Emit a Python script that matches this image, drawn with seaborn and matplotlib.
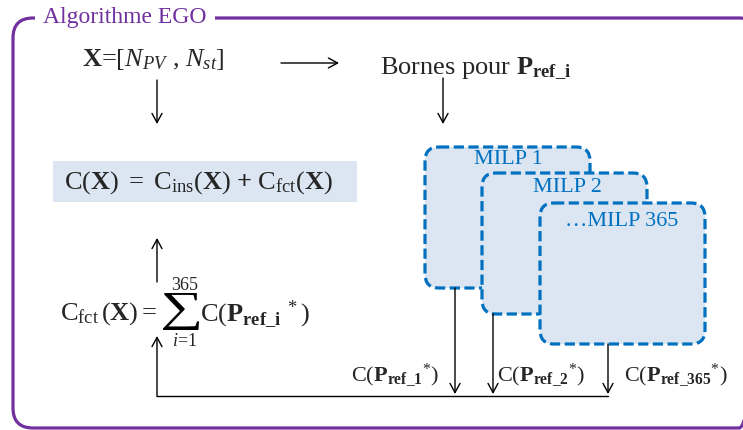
import matplotlib
matplotlib.use("Agg")
import matplotlib.pyplot as plt
import seaborn as sns
from matplotlib.patches import FancyBboxPatch, Rectangle, PathPatch
from matplotlib.textpath import TextPath
from matplotlib.font_manager import FontProperties
from matplotlib.transforms import Affine2D

# diagram content
title = "Algorithme EGO"
x_label = r"$\mathbf{X}$=[$N_{PV}$ , $N_{st}$]"
bornes_label = r"Bornes pour $\mathbf{P}_{\mathbf{ref\_i}}$"
cost_total = r"$\mathrm{C}(\mathbf{X})\ =\ \mathrm{C}_{\mathrm{ins}}(\mathbf{X})\ \mathbf{+}\ \mathrm{C}_{\mathrm{fct}}(\mathbf{X})$"
cost_fct = r"$\mathrm{C}_{\mathrm{fct}}\,(\mathbf{X}) = $"
sum_upper = "365"
sum_lower = r"$i$=1"
sum_term = r"$\mathrm{C}({\mathbf{P}_{\mathbf{ref\_i}}}^{\ *})$"
milp_labels = ["MILP 1", "MILP 2", "\u2026MILP 365"]
cost_labels = [r"$\mathrm{C}({\mathbf{P}_{\mathbf{ref\_1}}}^{*})$",
               r"$\mathrm{C}({\mathbf{P}_{\mathbf{ref\_2}}}^{*})$",
               r"$\mathrm{C}({\mathbf{P}_{\mathbf{ref\_365}}}^{*})$"]

# layout (pixels)
milp_x = [425, 482, 540]
milp_y = [147, 173, 203]
milp_w, milp_h = 165, 141
milp_text_xy = [(508, 160), (567, 188), (622, 221)]
cost_text_xy = [(395, 375), (541, 375), (676, 375)]
out_x = [455, 493, 608]

PURPLE = "#7030A0"
BLUE = "#0070C0"
FILL = "#DCE6F2"

sns.set_theme(style="white")
plt.rcParams["font.family"] = ["Liberation Serif", "DejaVu Serif"]
plt.rcParams["mathtext.fontset"] = "custom"
plt.rcParams["mathtext.rm"] = "Liberation Serif"
plt.rcParams["mathtext.it"] = "Liberation Serif:italic"
plt.rcParams["mathtext.bf"] = "Liberation Serif:bold"

fig = plt.figure(figsize=(7.43, 4.30), dpi=100)
ax = fig.add_axes([0, 0, 1, 1])
ax.set_xlim(0, 743)
ax.set_ylim(430, 0)
ax.axis("off")

# outer frame
frame = FancyBboxPatch((13, 18), 746, 410, boxstyle="round,pad=0,rounding_size=20",
                       fill=False, edgecolor=PURPLE, lw=2.3, clip_on=True)
ax.add_patch(frame)
ax.text(43, 18, title, color=PURPLE, fontsize=17, va="center", ha="left",
        bbox=dict(facecolor="white", edgecolor="none", pad=6))

arrow = dict(arrowstyle="->,head_length=0.55,head_width=0.3", color="black", lw=1,
             shrinkA=0, shrinkB=0)

ax.text(153, 60, x_label, fontsize=19, ha="center", va="center")
ax.annotate("", xy=(339, 63), xytext=(281, 63), arrowprops=arrow)
ax.text(380, 68, bornes_label, fontsize=19, ha="left", va="center")
ax.annotate("", xy=(157, 124), xytext=(157, 80), arrowprops=arrow)
ax.annotate("", xy=(443, 124), xytext=(443, 78), arrowprops=arrow)

# total cost box
ax.add_patch(Rectangle((53, 161), 304, 41, facecolor=FILL, edgecolor="none"))
ax.text(199, 183, cost_total, fontsize=19, ha="center", va="center")
ax.annotate("", xy=(157, 238), xytext=(157, 282), arrowprops=arrow)

# sum formula
ax.text(60, 314, cost_fct, fontsize=19, ha="left", va="center")
sig = TextPath((0, 0), "\u2211", size=1, prop=FontProperties(family="Liberation Serif"))
ext = sig.get_extents()
sx, sy = 36 / ext.width, 37 / ext.height
tr = Affine2D().translate(-ext.x0, -ext.y1).scale(sx, -sy).translate(163, 293)
ax.add_patch(PathPatch(tr.transform_path(sig), facecolor="black", edgecolor="none"))
ax.text(185, 286, sum_upper, fontsize=13, ha="center", va="center")
ax.text(185, 341, sum_lower, fontsize=13, ha="center", va="center")
ax.text(200, 314, sum_term, fontsize=19, ha="left", va="center")

# MILP boxes
for (bx, by), lab, (tx, ty) in zip(zip(milp_x, milp_y), milp_labels, milp_text_xy):
    ax.add_patch(FancyBboxPatch((bx, by), milp_w, milp_h,
                                boxstyle="round,pad=0,rounding_size=14",
                                facecolor=FILL, edgecolor=BLUE, lw=2.3,
                                linestyle=(0, (3.2, 1.4))))
    ax.text(tx, ty, lab, color=BLUE, fontsize=16, ha="center", va="center")

# outputs to the feedback line
for ox, (by, lab, (tx, ty)) in zip(out_x, zip(milp_y, cost_labels, cost_text_xy)):
    ax.annotate("", xy=(ox, 394), xytext=(ox, by + milp_h), arrowprops=arrow)
    ax.text(tx, ty, lab, fontsize=16, ha="center", va="center")

ax.plot([157, 608], [396, 396], color="black", lw=1)
ax.annotate("", xy=(157, 336), xytext=(157, 396.5), arrowprops=arrow)

fig.savefig("out.png", dpi=100)
